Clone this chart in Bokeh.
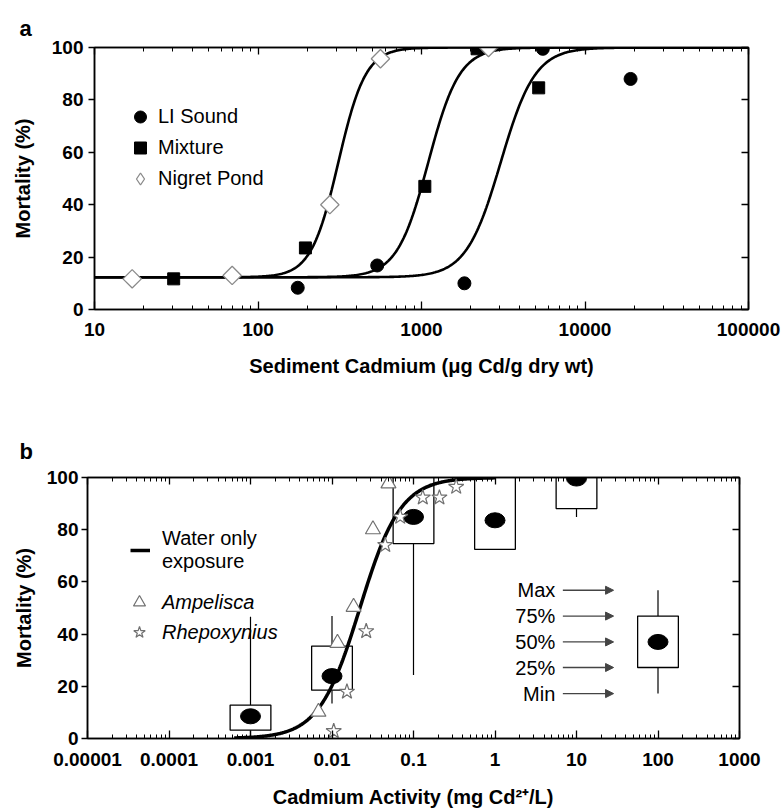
import numpy as np
from bokeh.plotting import figure
from bokeh.models import (Range1d, FixedTicker, LogAxis, LinearAxis, Legend, LegendItem,
                          Label, Arrow, NormalHead)
from bokeh.embed import file_html
from bokeh.resources import INLINE

FONT = "Liberation Sans"

# ---------------- Panel a data ----------------
a_xticks = [10, 100, 1000, 10000, 100000]
a_xlabels = ["10", "100", "1000", "10000", "100000"]
y_ticks = [0, 20, 40, 60, 80, 100]
y_labels = ["0", "20", "40", "60", "80", "100"]

li_x = [175, 536, 1830, 5520, 19000]
li_y = [8.3, 16.8, 10.0, 99.5, 88.0]
mix_x = [30.5, 195, 1048, 2188, 5210]
mix_y = [11.7, 23.5, 47.0, 99.5, 84.6]
nig_x = [17, 69.5, 275, 561, 2570]
nig_y = [11.7, 13.0, 40.0, 95.7, 100.0]

# fitted dose-response curves (parameters)
curve_ec50 = [3050, 1100, 310]
curve_slope = [9.5, 10.5, 12.0]   # logit units per decade
curve_bottom = 12.3
curve_top = 100.0

# ---------------- Panel b data ----------------
b_xticks = [1e-5, 1e-4, 1e-3, 1e-2, 1e-1, 1, 10, 100, 1000]
b_xlabels = ["0.00001", "0.0001", "0.001", "0.01", "0.1", "1", "10", "100", "1000"]

box_x = [0.001, 0.01, 0.1, 1, 10, 100]
box_min = [0.0, 13.4, 24.3, 72.5, 84.9, 17.2]
box_q1 = [3.2, 18.5, 74.7, 72.5, 88.1, 27.2]
box_med = [8.5, 23.9, 84.9, 83.6, 99.6, 37.0]
box_q3 = [12.8, 35.4, 100.0, 100.0, 100.0, 46.9]
box_max = [46.6, 46.9, 100.0, 100.0, 100.0, 56.8]
box_key_labels = ["Max", "75%", "50%", "25%", "Min"]

amp_x = [0.00682, 0.01167, 0.0184, 0.0318, 0.0493]
amp_y = [10.2, 36.6, 50.4, 80.1, 97.7]
rhe_x = [0.0105, 0.01525, 0.0263, 0.045, 0.0687, 0.13, 0.208, 0.334]
rhe_y = [2.8, 17.9, 41.1, 74.1, 84.9, 92.3, 92.3, 96.4]

water_ec50 = 0.022
water_slope = 4.0   # logit units per decade
water_top = 100.0


def minor_ticks(lo_exp, hi_exp):
    return [m * 10.0 ** e for e in range(lo_exp, hi_exp) for m in range(2, 10)]


def style_axis(ax, ticks, labels, minor, tin, tout, min_in, show=True, standoff=8):
    ax.ticker = FixedTicker(ticks=ticks, minor_ticks=minor)
    if show:
        ax.major_label_overrides = {t: l for t, l in zip(ticks, labels)}
    else:
        ax.major_label_overrides = {t: "" for t in ticks}
    ax.axis_line_color = "black"
    ax.axis_line_width = 1.5
    ax.major_tick_line_color = "black"
    ax.major_tick_line_width = 1.3
    ax.minor_tick_line_color = "black"
    ax.minor_tick_line_width = 1.0
    ax.major_tick_in = tin
    ax.major_tick_out = tout
    ax.minor_tick_in = min_in
    ax.minor_tick_out = 0
    ax.major_label_text_font = FONT
    ax.major_label_text_font_style = "bold"
    ax.major_label_text_font_size = "19px"
    ax.major_label_text_color = "black"
    ax.major_label_standoff = standoff
    ax.axis_label_text_font = FONT
    ax.axis_label_text_font_style = "bold"
    ax.axis_label_text_font_size = "20px"
    ax.axis_label_text_color = "black"


def base_fig(height, xr, yr, left, right, top, bottom, letter, offset, tstand):
    p = figure(width=781, height=height, x_axis_type="log", x_range=xr, y_range=yr,
               output_backend="svg", toolbar_location=None,
               min_border_left=left, min_border_right=right,
               min_border_top=top, min_border_bottom=bottom)
    p.grid.visible = False
    p.outline_line_color = "black"
    p.outline_line_width = 1.5
    p.background_fill_color = "white"
    p.border_fill_color = "white"
    p.title.text = letter
    p.title.align = "left"
    p.title.offset = offset
    p.title.standoff = tstand
    p.title.text_font = FONT
    p.title.text_font_style = "bold"
    p.title.text_font_size = "22px"
    p.title.text_color = "black"
    return p


def style_legend(lg, gw, gh, standoff):
    lg.label_text_font = FONT
    lg.label_text_font_size = "20px"
    lg.label_text_color = "black"
    lg.glyph_width = gw
    lg.glyph_height = gh
    lg.spacing = 0
    lg.padding = 0
    lg.margin = 0
    lg.label_standoff = standoff
    lg.border_line_color = None
    lg.background_fill_alpha = 0


# ================= Panel a =================
pa = base_fig(400, Range1d(10, 1e5), Range1d(0, 100), 94, 33, 47, 91, "a", -75, 14)
a_minor = minor_ticks(1, 5)
xa = pa.xaxis[0]
style_axis(xa, a_xticks, a_xlabels, a_minor, 8, 0, 4, standoff=13)
xa.axis_label = "Sediment Cadmium (\u03bcg Cd/g dry wt)"
xa.axis_label_standoff = 16
ya = pa.yaxis[0]
style_axis(ya, y_ticks, y_labels, [], 0, 6, 0, standoff=5)
ya.axis_label = "Mortality (%)"
ya.axis_label_standoff = 15

top_a = LogAxis()
style_axis(top_a, a_xticks, a_xlabels, a_minor, 7, 0, 4, show=False)
pa.add_layout(top_a, "above")
right_a = LinearAxis()
style_axis(right_a, y_ticks, y_labels, [], 7, 0, 0, show=False)
pa.add_layout(right_a, "right")

xs_a = np.logspace(1, 5, 500)
for ec50, k in zip(curve_ec50, curve_slope):
    ys = curve_bottom + (curve_top - curve_bottom) / (1 + np.exp(-k * (np.log10(xs_a) - np.log10(ec50))))
    pa.line(xs_a, ys, line_color="black", line_width=2.6)

r_li = pa.scatter(li_x, li_y, marker="circle", size=13, fill_color="black", line_color="black")
r_mix = pa.scatter(mix_x, mix_y, marker="square", size=12, fill_color="black", line_color="black")
pa.scatter(nig_x, nig_y, marker="square", angle=np.pi / 4, size=13,
           fill_color="white", line_color="#8a8a8a", line_width=1.3)
# legend swatch for the open diamonds (a point that is not drawn inside the frame)
r_nig_key = pa.scatter(x=[np.nan], y=[np.nan], marker="diamond", size=19,
                       fill_color="white", line_color="#8a8a8a", line_width=1.3)

leg_a = Legend(items=[LegendItem(label="LI Sound", renderers=[r_li]),
                      LegendItem(label="Mixture", renderers=[r_mix]),
                      LegendItem(label="Nigret Pond", renderers=[r_nig_key])],
               location=(31, 115), orientation="vertical")
style_legend(leg_a, 30, 31, 3)
pa.add_layout(leg_a)

# ================= Panel b =================
pb = base_fig(410, Range1d(1e-5, 1e3), Range1d(0, 100), 87, 42, 77, 72, "b", -68, 28)
b_minor = minor_ticks(-5, 3)
xb = pb.xaxis[0]
style_axis(xb, b_xticks, b_xlabels, b_minor, 8, 0, 4, standoff=14)
xb.axis_label = "Cadmium Activity (mg Cd\u00b2\u207a/L)"
xb.axis_label_standoff = 17
yb = pb.yaxis[0]
style_axis(yb, y_ticks, y_labels, [], 0, 6, 0, standoff=3)
yb.axis_label = "Mortality (%)"
yb.axis_label_standoff = 9

top_b = LogAxis()
style_axis(top_b, b_xticks, b_xlabels, b_minor, 7, 0, 4, show=False)
pb.add_layout(top_b, "above")
right_b = LinearAxis()
style_axis(right_b, y_ticks, y_labels, [], 7, 0, 0, show=False)
pb.add_layout(right_b, "right")

bx = np.array(box_x)
half = 10 ** 0.25
pb.segment(x0=bx, y0=box_q3, x1=bx, y1=box_max, line_color="black", line_width=1.2)
pb.segment(x0=bx, y0=box_q1, x1=bx, y1=box_min, line_color="black", line_width=1.2)
pb.quad(left=bx / half, right=bx * half, bottom=box_q1, top=box_q3,
        fill_color="white", line_color="black", line_width=1.3)

xs_b = np.logspace(-3.2, 0, 400)
ys_b = water_top / (1 + np.exp(-water_slope * (np.log10(xs_b) - np.log10(water_ec50))))
r_water = pb.line(xs_b, ys_b, line_color="black", line_width=3.5)

pb.ellipse(x=bx, y=box_med, width=20, height=15, width_units="screen", height_units="screen",
           fill_color="black", line_color="black")

r_amp = pb.scatter(amp_x, amp_y, marker="triangle", size=15, fill_color="white",
                   line_color="#707070", line_width=1.2)
r_rhe = pb.scatter(rhe_x, rhe_y, marker="star", size=16, fill_color="white",
                   line_color="#707070", line_width=1.2)

leg_b1 = Legend(items=[LegendItem(label="Water only\nexposure", renderers=[r_water])],
                location=(43, 165))
style_legend(leg_b1, 20, 28, 12)
leg_b2 = Legend(items=[LegendItem(label="Ampelisca", renderers=[r_amp]),
                       LegendItem(label="Rhepoxynius", renderers=[r_rhe])],
                location=(37, 91))
style_legend(leg_b2, 30, 30, 8)
leg_b2.label_text_font_style = "italic"
pb.add_layout(leg_b1)
pb.add_layout(leg_b2)

# key for the box plot (uses the example box at 100)
key_vals = [box_max[-1], box_q3[-1], box_med[-1], box_q1[-1], box_min[-1]]
for txt, v in zip(box_key_labels, key_vals):
    pb.add_layout(Label(x=5.5, y=v, text=txt, text_align="right", text_baseline="middle",
                        text_font=FONT, text_font_size="20px", text_color="black"))
    pb.add_layout(Arrow(end=NormalHead(size=8, fill_color="#444444", line_color="#444444"),
                        x_start=6.8, y_start=v, x_end=28.5, y_end=v,
                        line_color="#444444", line_width=1.3))

open("out.html", "w").write(file_html([pa, pb], INLINE))
